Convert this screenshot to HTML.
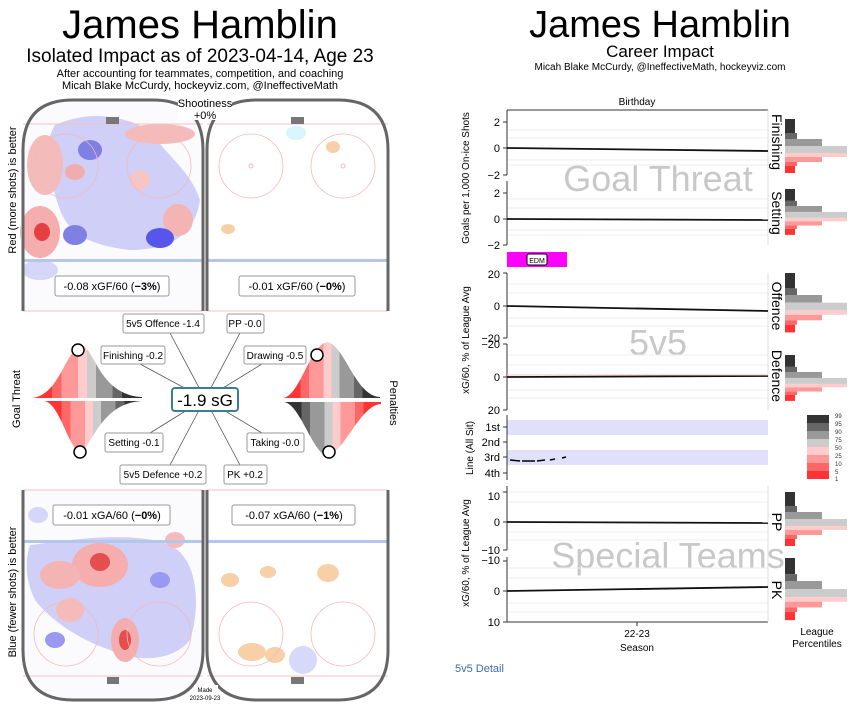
<!DOCTYPE html>
<html><head><meta charset="utf-8"><style>
body{margin:0;background:#fff}
svg{display:block;font-family:"Liberation Sans","DejaVu Sans",sans-serif}
</style></head><body>
<svg width="857" height="712" viewBox="0 0 857 712" xmlns="http://www.w3.org/2000/svg">
<rect width="857" height="712" fill="#fff"/>
<text x="200" y="38" font-size="40" text-anchor="middle">James Hamblin</text>
<text x="200" y="62" font-size="19" text-anchor="middle">Isolated Impact as of 2023-04-14, Age 23</text>
<text x="200" y="77" font-size="11" text-anchor="middle">After accounting for teammates, competition, and coaching</text>
<text x="200" y="89" font-size="11" text-anchor="middle">Micah Blake McCurdy, hockeyviz.com, @IneffectiveMath</text>

<g>
 <rect x="23" y="100" width="180" height="211" fill="#fbfbfe"/>
 <g opacity="0.85">
  <path d="M55,125 C90,110 120,115 150,130 C170,160 190,170 200,200 C195,235 170,250 130,250 C90,245 70,235 60,210 C50,180 40,150 55,125Z" fill="#c8c8f8"/>
  <ellipse cx="45" cy="165" rx="18" ry="30" fill="#f3b0b0"/>
  <ellipse cx="40" cy="232" rx="20" ry="26" fill="#f5a0a0"/>
  <ellipse cx="42" cy="232" rx="8" ry="9" fill="#e02020"/>
  <ellipse cx="160" cy="134" rx="35" ry="10" fill="#f3b0b0"/>
  <ellipse cx="178" cy="220" rx="15" ry="16" fill="#f3a8a8"/>
  <ellipse cx="140" cy="180" rx="10" ry="10" fill="#f6bcbc"/>
  <ellipse cx="90" cy="150" rx="12" ry="10" fill="#6a6ae0"/>
  <ellipse cx="160" cy="238" rx="14" ry="10" fill="#3a3ae8"/>
  <ellipse cx="75" cy="235" rx="12" ry="10" fill="#6a6ae0"/>
  <ellipse cx="75" cy="172" rx="10" ry="8" fill="#f0a0a0"/>
  <ellipse cx="40" cy="270" rx="18" ry="10" fill="#d0d0f8"/>
 </g>
 <path d="M21,311 V100 H68 Q23,100 23,150Z M205,311 V100 H158 Q203,100 203,150Z" fill="#fff"/>
 <rect x="23" y="259" width="180" height="3" fill="#b4c6ea"/>
 <line x1="23" y1="124" x2="203" y2="124" stroke="#f4c0c0"/>
 <circle cx="66" cy="166" r="32" fill="none" stroke="#f4b8b8" stroke-width="0.8"/>
 <circle cx="159" cy="166" r="32" fill="none" stroke="#f4b8b8" stroke-width="0.8"/>
 <rect x="106" y="117" width="13" height="7" fill="#777"/>
 <line x1="23" y1="311" x2="203" y2="311" stroke="#f4c0c0"/>
 <path d="M23,311 V150 Q23,100 73,100 H153 Q203,100 203,150 V311" fill="none" stroke="#666" stroke-width="3"/>

 <rect x="207" y="100" width="181" height="211" fill="#fff"/>
 <ellipse cx="296" cy="133" rx="10" ry="7" fill="#d8f4fc"/>
 <ellipse cx="333" cy="147" rx="7" ry="6" fill="#f8d0a8"/>
 <ellipse cx="228" cy="229" rx="7" ry="5" fill="#f8d0a8"/>
 <rect x="207" y="259" width="181" height="3" fill="#b4c6ea"/>
 <line x1="207" y1="124" x2="388" y2="124" stroke="#f4c0c0"/>
 <circle cx="251" cy="166" r="32" fill="none" stroke="#f4b8b8" stroke-width="0.8"/>
 <circle cx="343" cy="166" r="32" fill="none" stroke="#f4b8b8" stroke-width="0.8"/>
 <circle cx="251" cy="166" r="2" fill="none" stroke="#f4b8b8"/>
 <circle cx="343" cy="166" r="2" fill="none" stroke="#f4b8b8"/>
 <rect x="291" y="117" width="13" height="7" fill="#777"/>
 <line x1="207" y1="311" x2="388" y2="311" stroke="#f4c0c0"/>
 <path d="M207,311 V150 Q207,100 257,100 H338 Q388,100 388,150 V311" fill="none" stroke="#666" stroke-width="3"/>

 <rect x="178" y="98" width="54" height="22" fill="#fff"/>
 <text x="205" y="107" font-size="11" text-anchor="middle">Shootiness</text>
 <text x="205" y="119" font-size="11" text-anchor="middle">+0%</text>

 <rect x="55" y="276" width="114" height="20" rx="2" fill="#fff" stroke="#999"/>
 <text x="112" y="290" font-size="11" text-anchor="middle">-0.08 xGF/60 (<tspan font-weight="bold">−3%</tspan>)</text>
 <rect x="239" y="276" width="116" height="20" rx="2" fill="#fff" stroke="#999"/>
 <text x="297" y="290" font-size="11" text-anchor="middle">-0.01 xGF/60 (<tspan font-weight="bold">−0%</tspan>)</text>
</g>
<text transform="translate(16,190) rotate(-90)" font-size="11" text-anchor="middle">Red (more shots) is better</text>

<g stroke="#555" stroke-width="0.8">
 <line x1="205" y1="399" x2="170" y2="333"/><line x1="205" y1="399" x2="240" y2="333"/>
 <line x1="205" y1="399" x2="140" y2="364"/><line x1="205" y1="399" x2="262" y2="364"/>
 <line x1="205" y1="399" x2="150" y2="433"/><line x1="205" y1="399" x2="262" y2="433"/>
 <line x1="205" y1="399" x2="170" y2="465"/><line x1="205" y1="399" x2="240" y2="465"/>
</g>
<g font-size="10" text-anchor="middle">
 <rect x="123" y="314" width="81" height="19" rx="2" fill="#fff" stroke="#999"/><text x="163" y="327">5v5 Offence -1.4</text>
 <rect x="227" y="314" width="37" height="19" rx="2" fill="#fff" stroke="#999"/><text x="245" y="327">PP -0.0</text>
 <rect x="101" y="346" width="64" height="18" rx="2" fill="#fff" stroke="#999"/><text x="133" y="359">Finishing -0.2</text>
 <rect x="244" y="346" width="62" height="18" rx="2" fill="#fff" stroke="#999"/><text x="275" y="359">Drawing -0.5</text>
 <rect x="105" y="433" width="58" height="19" rx="2" fill="#fff" stroke="#999"/><text x="134" y="446">Setting -0.1</text>
 <rect x="247" y="433" width="57" height="19" rx="2" fill="#fff" stroke="#999"/><text x="275" y="446">Taking -0.0</text>
 <rect x="120" y="465" width="86" height="19" rx="2" fill="#fff" stroke="#999"/><text x="163" y="478">5v5 Defence +0.2</text>
 <rect x="224" y="465" width="43" height="19" rx="2" fill="#fff" stroke="#999"/><text x="245" y="478">PK +0.2</text>
</g>
<rect x="172" y="388" width="66" height="23" rx="3" fill="#fff" stroke="#3a7f8f" stroke-width="2"/>
<text x="205" y="406" font-size="17" text-anchor="middle">-1.9 sG</text>

<defs>
 <linearGradient id="gl" x1="0" x2="1">
  <stop offset="0" stop-color="#f33"/><stop offset="0.18" stop-color="#f33"/>
  <stop offset="0.18" stop-color="#f66"/><stop offset="0.27" stop-color="#f66"/>
  <stop offset="0.27" stop-color="#f99"/><stop offset="0.42" stop-color="#f99"/>
  <stop offset="0.42" stop-color="#fcc"/><stop offset="0.5" stop-color="#fcc"/>
  <stop offset="0.5" stop-color="#ccc"/><stop offset="0.58" stop-color="#ccc"/>
  <stop offset="0.58" stop-color="#999"/><stop offset="0.73" stop-color="#999"/>
  <stop offset="0.73" stop-color="#666"/><stop offset="0.82" stop-color="#666"/>
  <stop offset="0.82" stop-color="#333"/><stop offset="1" stop-color="#333"/>
 </linearGradient>
 <linearGradient id="gr" x1="1" x2="0">
  <stop offset="0" stop-color="#f33"/><stop offset="0.18" stop-color="#f33"/>
  <stop offset="0.18" stop-color="#f66"/><stop offset="0.27" stop-color="#f66"/>
  <stop offset="0.27" stop-color="#f99"/><stop offset="0.42" stop-color="#f99"/>
  <stop offset="0.42" stop-color="#fcc"/><stop offset="0.5" stop-color="#fcc"/>
  <stop offset="0.5" stop-color="#ccc"/><stop offset="0.58" stop-color="#ccc"/>
  <stop offset="0.58" stop-color="#999"/><stop offset="0.73" stop-color="#999"/>
  <stop offset="0.73" stop-color="#666"/><stop offset="0.82" stop-color="#666"/>
  <stop offset="0.82" stop-color="#333"/><stop offset="1" stop-color="#333"/>
 </linearGradient>
</defs>
<path d="M32,398 C60,395 65,350 82,345 C95,350 100,395 142,397 V398Z" fill="url(#gl)"/>
<path d="M44,401 C60,403 68,448 80,452 C92,448 100,403 142,401Z" fill="url(#gl)"/>
<circle cx="78" cy="350" r="6" fill="#fff" stroke="#000" stroke-width="1.5"/>
<circle cx="80" cy="452" r="6" fill="#fff" stroke="#000" stroke-width="1.5"/>
<path d="M283,398 C300,396 310,345 327,342 C345,345 355,396 380,397 V398Z" fill="url(#gl)"/>
<path d="M284,402 C300,404 312,452 327,456 C345,452 360,405 381,404 V402Z" fill="url(#gr)"/>
<circle cx="317" cy="355" r="6" fill="#fff" stroke="#000" stroke-width="1.5"/>
<circle cx="329" cy="452" r="6" fill="#fff" stroke="#000" stroke-width="1.5"/>
<text transform="translate(20,399) rotate(-90)" font-size="11" text-anchor="middle">Goal Threat</text>
<text transform="translate(390,403) rotate(90)" font-size="11" text-anchor="middle">Penalties</text>

<g>
 <rect x="23" y="490" width="180" height="210" fill="#fbfbfe"/>
 <g opacity="0.85">
  <path d="M30,545 C70,540 130,530 170,545 C200,560 200,610 190,640 C170,665 130,660 110,650 C80,640 50,620 35,600 C25,580 25,560 30,545Z" fill="#c8c8f8"/>
  <ellipse cx="38" cy="515" rx="10" ry="8" fill="#d0d0f8"/>
  <ellipse cx="100" cy="565" rx="28" ry="22" fill="#f5a0a0"/>
  <ellipse cx="100" cy="562" rx="10" ry="9" fill="#e03030"/>
  <ellipse cx="60" cy="575" rx="20" ry="14" fill="#f3a8a8"/>
  <ellipse cx="125" cy="640" rx="14" ry="22" fill="#f3a0a0"/>
  <ellipse cx="125" cy="640" rx="6" ry="10" fill="#e03030"/>
  <ellipse cx="70" cy="610" rx="14" ry="12" fill="#f4b0b0"/>
  <ellipse cx="55" cy="640" rx="10" ry="8" fill="#8888f0"/>
  <ellipse cx="160" cy="580" rx="10" ry="8" fill="#8888f0"/>
  <ellipse cx="175" cy="540" rx="10" ry="8" fill="#f4b0b0"/>
 </g>
 <path d="M21,490 V700 H68 Q23,700 23,650Z M205,490 V700 H158 Q203,700 203,650Z" fill="#fff"/>
 <rect x="23" y="540" width="180" height="3" fill="#b4c6ea"/>
 <line x1="23" y1="490" x2="203" y2="490" stroke="#f4c0c0"/>
 <line x1="23" y1="676" x2="203" y2="676" stroke="#f4c0c0"/>
 <circle cx="66" cy="634" r="32" fill="none" stroke="#f4b8b8" stroke-width="0.8"/>
 <circle cx="159" cy="634" r="32" fill="none" stroke="#f4b8b8" stroke-width="0.8"/>
 <rect x="107" y="677" width="12" height="7" fill="#777"/>
 <path d="M23,490 V650 Q23,700 73,700 H153 Q203,700 203,650 V490" fill="none" stroke="#666" stroke-width="3"/>

 <rect x="207" y="490" width="181" height="210" fill="#fff"/>
 <ellipse cx="230" cy="580" rx="9" ry="7" fill="#f8d0a8"/>
 <ellipse cx="268" cy="572" rx="8" ry="6" fill="#f8d0a8"/>
 <ellipse cx="328" cy="573" rx="11" ry="9" fill="#f8d0a8"/>
 <ellipse cx="252" cy="652" rx="14" ry="9" fill="#f8d0a8"/>
 <ellipse cx="275" cy="655" rx="10" ry="8" fill="#f8d0a8"/>
 <ellipse cx="303" cy="660" rx="14" ry="14" fill="#d8d8f8"/>
 <rect x="207" y="540" width="181" height="3" fill="#b4c6ea"/>
 <line x1="207" y1="490" x2="388" y2="490" stroke="#f4c0c0"/>
 <line x1="207" y1="676" x2="388" y2="676" stroke="#f4c0c0"/>
 <circle cx="251" cy="634" r="32" fill="none" stroke="#f4b8b8" stroke-width="0.8"/>
 <circle cx="343" cy="634" r="32" fill="none" stroke="#f4b8b8" stroke-width="0.8"/>
 <rect x="291" y="677" width="13" height="7" fill="#777"/>
 <path d="M207,490 V650 Q207,700 257,700 H338 Q388,700 388,650 V490" fill="none" stroke="#666" stroke-width="3"/>

 <rect x="53" y="505" width="117" height="20" rx="2" fill="#fff" stroke="#999"/>
 <text x="112" y="519" font-size="11" text-anchor="middle">-0.01 xGA/60 (<tspan font-weight="bold">−0%</tspan>)</text>
 <rect x="232" y="505" width="123" height="20" rx="2" fill="#fff" stroke="#999"/>
 <text x="294" y="519" font-size="11" text-anchor="middle">-0.07 xGA/60 (<tspan font-weight="bold">−1%</tspan>)</text>
 <rect x="194" y="685" width="24" height="17" fill="#fff"/>
 <text x="205" y="692" font-size="6" text-anchor="middle">Made</text>
 <text x="205" y="700" font-size="6" text-anchor="middle">2023-09-23</text>
</g>
<text transform="translate(16,592) rotate(-90)" font-size="11" text-anchor="middle">Blue (fewer shots) is better</text>

<text x="660" y="37" font-size="38" text-anchor="middle">James Hamblin</text>
<text x="660" y="57" font-size="17" text-anchor="middle">Career Impact</text>
<text x="660" y="70" font-size="10" text-anchor="middle">Micah Blake McCurdy, @IneffectiveMath, hockeyviz.com</text>
<text x="637" y="105" font-size="10" text-anchor="middle">Birthday</text>

<g fill="#c8c8c8" text-anchor="middle">
 <text x="658" y="191" font-size="36">Goal Threat</text>
 <text x="658" y="355" font-size="36">5v5</text>
 <text x="668" y="568" font-size="36">Special Teams</text>
</g>

<g stroke="#eee" stroke-width="1">
 <line x1="507" y1="130" x2="768" y2="130"/><line x1="507" y1="138" x2="768" y2="138"/><line x1="507" y1="160" x2="768" y2="160"/><line x1="507" y1="165" x2="768" y2="165"/>
 <line x1="507" y1="199" x2="768" y2="199"/><line x1="507" y1="208" x2="768" y2="208"/><line x1="507" y1="230" x2="768" y2="230"/><line x1="507" y1="235" x2="768" y2="235"/>
 <line x1="507" y1="284" x2="768" y2="284"/><line x1="507" y1="293" x2="768" y2="293"/><line x1="507" y1="318" x2="768" y2="318"/><line x1="507" y1="326" x2="768" y2="326"/>
 <line x1="507" y1="355" x2="768" y2="355"/><line x1="507" y1="365" x2="768" y2="365"/><line x1="507" y1="390" x2="768" y2="390"/><line x1="507" y1="398" x2="768" y2="398"/>
 <line x1="507" y1="492" x2="768" y2="492"/><line x1="507" y1="502" x2="768" y2="502"/><line x1="507" y1="532" x2="768" y2="532"/><line x1="507" y1="540" x2="768" y2="540"/>
 <line x1="507" y1="568" x2="768" y2="568"/><line x1="507" y1="578" x2="768" y2="578"/><line x1="507" y1="603" x2="768" y2="603"/><line x1="507" y1="612" x2="768" y2="612"/>
</g>
<rect x="507" y="420" width="261" height="15" fill="#e0e0fa"/>
<rect x="507" y="450" width="261" height="15" fill="#e0e0fa"/>
<path d="M510,460 L520,461 M522,461 L535,461 M537,461 L545,460 M550,460 L555,459 M562,458 L566,457" stroke="#000" stroke-width="1.5" fill="none"/>

<rect x="507" y="252" width="60" height="15" fill="#f0f"/>
<rect x="527" y="254" width="20" height="11" rx="2" fill="#fff" stroke="#000"/>
<text x="537" y="263" font-size="7" text-anchor="middle">EDM</text>

<g stroke="#333" stroke-width="1" fill="none">
 <line x1="507" y1="110" x2="507" y2="175"/><line x1="507" y1="181" x2="507" y2="245"/>
 <line x1="507" y1="273" x2="507" y2="338"/><line x1="507" y1="344" x2="507" y2="410"/>
 <line x1="507" y1="415" x2="507" y2="480"/>
 <line x1="507" y1="486" x2="507" y2="550"/><line x1="507" y1="557" x2="507" y2="622"/>
 <line x1="507" y1="622" x2="768" y2="622"/>
 <line x1="507" y1="110" x2="768" y2="110"/>
 <line x1="637" y1="622" x2="637" y2="626"/>
 <path d="M503,122h4M503,148h4M503,175h4M503,193h4M503,219h4M503,245h4M503,273h4M503,306h4M503,338h4M503,344h4M503,377h4M503,410h4M503,427h4M503,442h4M503,457h4M503,473h4M503,492h4M503,522h4M503,550h4M503,561h4M503,591h4M503,622h4"/>
</g>
<g stroke="#ddd"><line x1="768" y1="110" x2="768" y2="245"/><line x1="768" y1="273" x2="768" y2="410"/><line x1="768" y1="486" x2="768" y2="622"/></g>
<g stroke="#111" stroke-width="1.8" fill="none">
 <line x1="507" y1="148" x2="768" y2="151"/>
 <line x1="507" y1="219" x2="768" y2="220"/>
 <line x1="507" y1="306" x2="768" y2="311"/>
 <line x1="507" y1="377" x2="768" y2="376"/>
 <line x1="507" y1="522" x2="768" y2="523"/>
 <line x1="507" y1="591" x2="768" y2="587"/>
</g>
<line x1="507" y1="375" x2="768" y2="375" stroke="#f8c0c0" stroke-width="1"/>

<g font-size="11" text-anchor="end">
 <text x="500" y="126">2</text><text x="500" y="152">0</text><text x="500" y="179">−2</text>
 <text x="500" y="197">2</text><text x="500" y="223">0</text><text x="500" y="249">−2</text>
 <text x="500" y="278">20</text><text x="500" y="310">0</text><text x="500" y="342">−20</text>
 <text x="500" y="348">−20</text><text x="500" y="381">0</text><text x="500" y="414">20</text>
 <text x="500" y="431">1st</text><text x="500" y="446">2nd</text><text x="500" y="461">3rd</text><text x="500" y="477">4th</text>
 <text x="500" y="500">10</text><text x="500" y="526">0</text><text x="500" y="554">−10</text>
 <text x="500" y="564">−10</text><text x="500" y="595">0</text><text x="500" y="626">10</text>
</g>
<text x="637" y="637" font-size="10" text-anchor="middle">22-23</text>
<text x="637" y="651" font-size="10" text-anchor="middle">Season</text>
<g font-size="10" text-anchor="middle">
 <text transform="translate(469,178) rotate(-90)">Goals per 1,000 On-ice Shots</text>
 <text transform="translate(469,340) rotate(-90)">xG/60, % of League Avg</text>
 <text transform="translate(473,448) rotate(-90)">Line (All Sit)</text>
 <text transform="translate(469,553) rotate(-90)">xG/60, % of League Avg</text>
</g>
<g font-size="14" text-anchor="middle">
 <text transform="translate(772,142) rotate(90)">Finishing</text>
 <text transform="translate(772,213) rotate(90)">Setting</text>
 <text transform="translate(772,306) rotate(90)">Offence</text>
 <text transform="translate(772,376) rotate(90)">Defence</text>
 <text transform="translate(772,522) rotate(90)">PP</text>
 <text transform="translate(772,590) rotate(90)">PK</text>
</g>

<defs>
 <g id="h">
  <rect x="0" y="0" width="10" height="14" fill="#333"/>
  <rect x="0" y="14" width="12" height="6" fill="#666"/>
  <rect x="0" y="20" width="37" height="7" fill="#999"/>
  <rect x="0" y="27" width="62" height="7" fill="#ccc"/>
  <rect x="0" y="34" width="62" height="4" fill="#fcc"/>
  <rect x="0" y="38" width="37" height="5" fill="#f99"/>
  <rect x="0" y="43" width="12" height="4" fill="#f66"/>
  <rect x="0" y="47" width="10" height="7" fill="#f33"/>
 </g>
</defs>
<use href="#h" transform="translate(785,119)"/>
<use href="#h" transform="translate(785,189) scale(1,0.85)"/>
<use href="#h" transform="translate(785,273) scale(1,1.1)"/>
<use href="#h" transform="translate(785,355) scale(1,0.85)"/>
<use href="#h" transform="translate(785,492)"/>
<use href="#h" transform="translate(785,558) scale(1,1.15)"/>

<rect x="807" y="415" width="22" height="8" fill="#333"/>
<rect x="807" y="423" width="22" height="8" fill="#666"/>
<rect x="807" y="431" width="22" height="8" fill="#999"/>
<rect x="807" y="439" width="22" height="8" fill="#ccc"/>
<rect x="807" y="447" width="22" height="8" fill="#fcc"/>
<rect x="807" y="455" width="22" height="8" fill="#f99"/>
<rect x="807" y="463" width="22" height="8" fill="#f66"/>
<rect x="807" y="471" width="22" height="8" fill="#f33"/>
<g font-size="6" fill="#333">
 <text x="835" y="418">99</text><text x="835" y="426">95</text><text x="835" y="434">90</text><text x="835" y="442">75</text><text x="835" y="450">50</text><text x="835" y="458">25</text><text x="835" y="466">10</text><text x="835" y="474">5</text><text x="835" y="481">1</text>
</g>
<text x="817" y="635" font-size="10" text-anchor="middle">League</text>
<text x="817" y="647" font-size="10" text-anchor="middle">Percentiles</text>
<text x="455" y="672" font-size="11" fill="#3a6fb0">5v5 Detail</text>
</svg>
</body></html>
